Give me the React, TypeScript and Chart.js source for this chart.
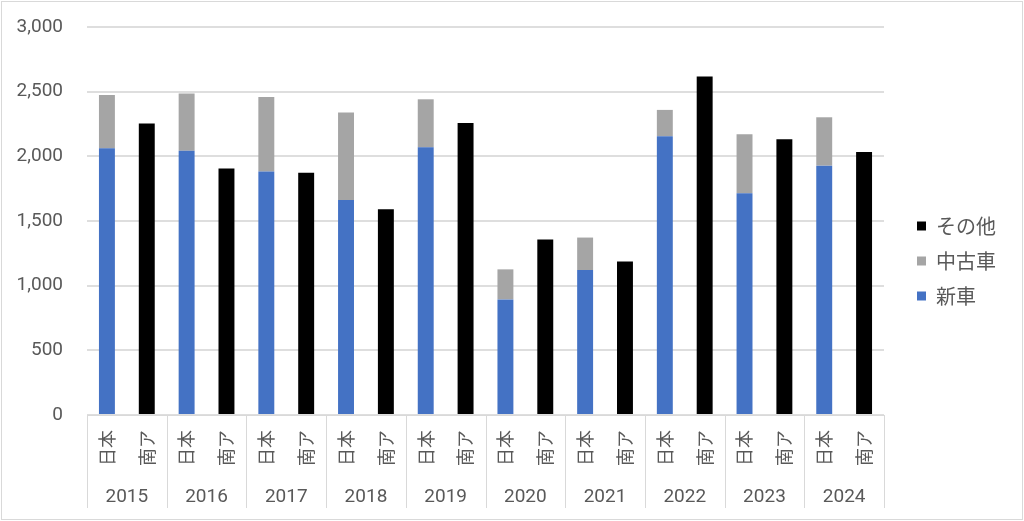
import React, { useEffect, useRef } from "react";
import { Chart, registerables } from "chart.js";

Chart.register(...registerables);

const years = ["2015", "2016", "2017", "2018", "2019", "2020", "2021", "2022", "2023", "2024"];
const countries = ["日本", "南ア"];
const newCarsJapan = [2062, 2044, 1882, 1663, 2070, 894, 1121, 2156, 1714, 1928];
const usedCarsJapan = [413, 441, 577, 675, 371, 232, 251, 203, 457, 374];
const otherSouthAfrica = [2253, 1905, 1874, 1591, 2258, 1357, 1186, 2618, 2132, 2034];
const yTicks = [0, 500, 1000, 1500, 2000, 2500, 3000];

const TEXT = "#595959";
const LINE = "#d9d9d9";
const FONT = "Roboto, 'Liberation Sans', 'Noto Sans CJK JP', sans-serif";
const CJK = "'Noto Sans CJK JP', sans-serif";

function zeroPad(scale: any) {
  scale.paddingTop = 0;
  scale.paddingBottom = 0;
  scale.paddingLeft = 0;
  scale.paddingRight = 0;
}

export default function App() {
  const ref = useRef<HTMLCanvasElement | null>(null);

  useEffect(() => {
    document.body.style.margin = "0";
    const labels: string[] = [];
    const newData: (number | null)[] = [];
    const usedData: (number | null)[] = [];
    const otherData: (number | null)[] = [];
    years.forEach((_, i) => {
      labels.push(countries[0]);
      newData.push(newCarsJapan[i]);
      usedData.push(usedCarsJapan[i]);
      otherData.push(null);
      labels.push(countries[1]);
      newData.push(null);
      usedData.push(null);
      otherData.push(otherSouthAfrica[i]);
    });

    const LEGEND_GAP = 18;
    const LEGEND_UP = 13;

    const frame = {
      id: "frame",
      beforeInit(chart: any) {
        const legend = chart.legend;
        if (legend) {
          const origFit = legend.fit;
          legend.fit = function () {
            origFit.call(this);
            this.width += LEGEND_GAP;
          };
        }
      },
      afterLayout(chart: any) {
        const legend = chart.legend;
        if (legend) {
          legend.left += LEGEND_GAP;
          legend.right += LEGEND_GAP;
          legend.top -= LEGEND_UP;
          legend.bottom -= LEGEND_UP;
        }
      },
      afterDraw(chart: any) {
        const ctx = chart.ctx;
        const x = chart.scales.x;
        ctx.save();
        ctx.strokeStyle = LINE;
        ctx.lineWidth = 1;
        const top = chart.chartArea.bottom;
        const bottom = 508;
        for (let i = 0; i <= years.length; i++) {
          const px = Math.round(x.getPixelForValue(i * 2 - 0.5)) + 0.5;
          ctx.beginPath();
          ctx.moveTo(px, top);
          ctx.lineTo(px, bottom);
          ctx.stroke();
        }
        ctx.strokeStyle = LINE;
        ctx.strokeRect(1.5, 1.5, chart.width - 3, chart.height - 3);
        ctx.restore();
      },
    };

    const chart = new Chart(ref.current!, {
      type: "bar",
      data: {
        labels,
        datasets: [
          { label: "新車", data: newData, backgroundColor: "#4472C4", stack: "s" },
          { label: "中古車", data: usedData, backgroundColor: "#A5A5A5", stack: "s" },
          { label: "その他", data: otherData, backgroundColor: "#000000", stack: "s" },
        ],
      },
      options: {
        animation: false,
        responsive: false,
        maintainAspectRatio: false,
        layout: { padding: { top: 27, left: 0, right: 18, bottom: 0 } },
        datasets: { bar: { barPercentage: 0.4, categoryPercentage: 1, skipNull: true } },
        plugins: {
          legend: {
            position: "right",
            reverse: true,
            labels: {
              boxWidth: 9,
              boxHeight: 9,
              padding: 15,
              color: TEXT,
              font: { family: CJK, size: 20 },
            },
          },
          tooltip: { enabled: false },
        },
        scales: {
          x: {
            stacked: true,
            grid: { display: false, drawTicks: false },
            border: { display: true, color: LINE },
            afterFit(scale: any) {
              scale.height = 52;
              zeroPad(scale);
            },
            ticks: {
              color: TEXT,
              font: { family: CJK, size: 18 },
              minRotation: 90,
              maxRotation: 90,
              padding: 15,
              autoSkip: false,
            },
          },
          x2: {
            type: "category",
            labels: years,
            position: "bottom",
            offset: true,
            grid: { display: false, drawTicks: false },
            border: { display: false },
            afterFit(scale: any) {
              scale.height = 54;
              zeroPad(scale);
            },
            ticks: { color: TEXT, font: { family: FONT, size: 19 }, padding: 19 },
          },
          y: {
            stacked: true,
            min: 0,
            max: 3000,
            afterBuildTicks(scale: any) {
              scale.ticks = yTicks.map((v) => ({ value: v }));
            },
            afterFit(scale: any) {
              scale.width = 87;
              zeroPad(scale);
            },
            grid: { color: "#dedede", lineWidth: 2, drawTicks: false },
            border: { display: false },
            ticks: {
              color: TEXT,
              font: { family: FONT, size: 19 },
              padding: 24,
              callback: (v: any) => Number(v).toLocaleString("en-US"),
            },
          },
        },
      },
      plugins: [frame],
    });
    return () => chart.destroy();
  }, []);

  return (
    <div style={{ position: "absolute", left: 0, top: 0, width: 1024, height: 521 }}>
      <canvas ref={ref} width={1024} height={521} style={{ width: 1024, height: 521, display: "block" }} />
    </div>
  );
}
